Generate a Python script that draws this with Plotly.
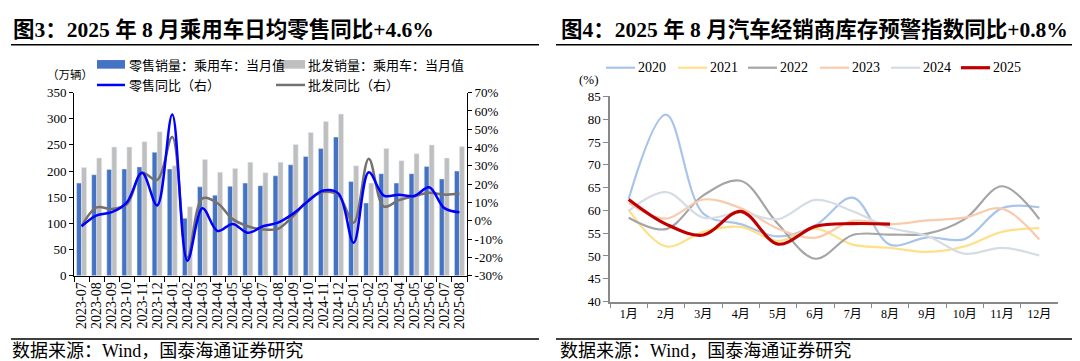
import plotly.graph_objects as go

# ---------------- data: left chart ----------------
months_l = ["2023-07", "2023-08", "2023-09", "2023-10", "2023-11", "2023-12",
            "2024-01", "2024-02", "2024-03", "2024-04", "2024-05", "2024-06",
            "2024-07", "2024-08", "2024-09", "2024-10", "2024-11", "2024-12",
            "2025-01", "2025-02", "2025-03", "2025-04", "2025-05", "2025-06",
            "2025-07", "2025-08"]
retail = [177, 193, 203, 204, 208, 236, 204, 110, 170, 154, 171, 177, 172,
          191, 212, 228, 243, 265, 180, 139, 195, 177, 195, 209, 185, 200]
wholesale = [207, 225, 246, 246, 256, 275, 210, 132, 222, 198, 205, 217, 197,
             217, 251, 274, 295, 309, 210, 177, 243, 220, 233, 250, 225, 247]
retail_yoy = [-3.0, 3.0, 4.7, 10.1, 26.2, 8.4, 58.0, -21.8, 6.8, -5.6, -1.7, -6.6, -3.0,
              -1.0, 3.9, 10.8, 16.5, 14.8, -12.0, 26.5, 13.8, 14.2, 13.5, 18.3, 6.9, 4.6]
wholesale_yoy = [-3.0, 7.3, 6.4, 9.0, 26.2, 22.3, 45.8, -20.0, 12.2, 9.6, 0.9, -3.0, -4.7,
                 -4.4, 2.6, 11.3, 15.7, 13.9, -1.0, 33.9, 7.8, 11.3, 13.4, 15.3, 14.3, 14.7]
left_ticks = [0, 50, 100, 150, 200, 250, 300, 350]
right_ticks = [-30, -20, -10, 0, 10, 20, 30, 40, 50, 60, 70]

# ---------------- data: right chart ----------------
months_r = ["1月", "2月", "3月", "4月", "5月", "6月", "7月", "8月", "9月", "10月", "11月", "12月"]
y2020 = [62.5, 81.0, 59.3, 57.0, 54.3, 56.7, 62.8, 52.5, 54.1, 53.7, 60.5, 60.7]
y2021 = [60.1, 52.1, 55.3, 56.4, 53.3, 56.0, 52.5, 51.8, 50.9, 52.1, 55.3, 56.1]
y2022 = [58.4, 55.9, 63.3, 66.5, 57.0, 49.4, 54.6, 54.7, 54.9, 58.1, 65.3, 58.1]
y2023 = [61.6, 58.2, 62.4, 60.5, 56.0, 54.0, 57.7, 57.0, 57.8, 58.4, 60.4, 53.6]
y2024 = [59.9, 64.0, 58.4, 59.5, 58.1, 62.3, 59.8, 56.2, 54.4, 50.5, 51.8, 50.1]
y2025 = [62.4, 57.0, 54.6, 59.8, 52.6, 56.5, 57.1, 57.0]
years = ["2020", "2021", "2022", "2023", "2024", "2025"]
ticks_r = [40, 45, 50, 55, 60, 65, 70, 75, 80, 85]

W, H = 1080, 361
def X(px): return px / W
def Y(py): return 1 - py / H

SERIF = "Liberation Serif, Noto Sans CJK SC"
CJK = "Noto Sans CJK SC, Liberation Serif"

BLUE_BAR = "#4472c4"
GRAY_BAR = "#bfbfbf"
BLUE_LINE = "#0000ff"
GRAY_LINE = "#767171"
year_colors = ["#a9c4eb", "#ffe08a", "#a5a5a5", "#f8cbad", "#d6dce5", "#c00000"]
year_widths = [2.2, 2.2, 2.2, 2.2, 2.2, 3.2]

fig = go.Figure()

fig.add_trace(go.Bar(x=months_l, y=retail, marker_color=BLUE_BAR, name="零售销量:乘用车:当月值",
                     xaxis="x", yaxis="y", showlegend=False))
fig.add_trace(go.Bar(x=months_l, y=wholesale, marker_color=GRAY_BAR, name="批发销量:乘用车:当月值",
                     xaxis="x", yaxis="y", showlegend=False))
fig.add_trace(go.Scatter(x=months_l, y=wholesale_yoy, mode="lines", line=dict(color=GRAY_LINE, width=2.5, shape="spline", smoothing=1.0),
                         xaxis="x", yaxis="y2", showlegend=False))
fig.add_trace(go.Scatter(x=months_l, y=retail_yoy, mode="lines", line=dict(color=BLUE_LINE, width=2.5, shape="spline", smoothing=1.0),
                         xaxis="x", yaxis="y2", showlegend=False))

series_r = [y2020, y2021, y2022, y2023, y2024, y2025]
for name, vals, c, w in zip(years, series_r, year_colors, year_widths):
    fig.add_trace(go.Scatter(x=months_r[:len(vals)], y=vals, mode="lines", name=name,
                             line=dict(color=c, width=w, shape="spline", smoothing=1.0),
                             xaxis="x2", yaxis="y3", showlegend=False))

L_X0, L_X1, L_Y0, L_Y1 = 66, 459, 81, 272
R_X0, R_X1, R_Y0, R_Y1 = 602, 1050, 85, 299

tickfont = dict(family=SERIF, size=13, color="#000000")
fig.update_layout(
    width=W, height=H, margin=dict(l=0, r=0, t=0, b=0, pad=0),
    paper_bgcolor="white", plot_bgcolor="white",
    barmode="group", bargap=0.34, bargroupgap=0.0,
    xaxis=dict(domain=[X(L_X0), X(L_X1)], anchor="y", type="category",
               tickmode="array", tickvals=months_l, ticktext=months_l,
               showline=True, linecolor="#000000", linewidth=1, ticks="outside", ticklen=5,
               tickcolor="#000000", tickson="boundaries", tickangle=-90,
               tickfont=dict(family=SERIF, size=14, color="#000000"), showgrid=False),
    yaxis=dict(domain=[Y(L_Y1), Y(L_Y0)], anchor="x", range=[0, 350], tickvals=left_ticks,
               showline=True, linecolor="#000000", linewidth=1, ticks="outside", ticklen=4,
               tickcolor="#000000", tickfont=tickfont, showgrid=False, zeroline=False),
    yaxis2=dict(overlaying="y", anchor="x", side="right", range=[-30, 70], tickvals=right_ticks,
                ticktext=[f"{v}%" for v in right_ticks],
                showline=True, linecolor="#000000", linewidth=1, ticks="outside", ticklen=4,
                tickcolor="#000000", tickfont=tickfont, showgrid=False, zeroline=False),
    xaxis2=dict(domain=[X(R_X0), X(R_X1)], anchor="y3", type="category", range=[-0.5, 11.5],
                tickmode="array", tickvals=months_r, ticktext=months_r,
                showline=True, linecolor="#898989", linewidth=1.5, ticks="outside", ticklen=5,
                tickcolor="#898989", tickson="boundaries",
                tickfont=dict(family=SERIF, size=12, color="#000000"), showgrid=False),
    yaxis3=dict(domain=[Y(R_Y1), Y(R_Y0)], anchor="x2", range=[40, 85], tickvals=ticks_r,
                showline=True, linecolor="#898989", linewidth=1.5, ticks="outside", ticklen=5,
                tickcolor="#898989", tickfont=tickfont, showgrid=False, zeroline=False),
)

shapes = []
annotations = []
# title rules and source rules
for x0, x1 in [(3, 531), (548, 1077)]:
    shapes.append(dict(type="line", xref="paper", yref="paper", x0=X(x0), x1=X(x1), y0=Y(31), y1=Y(31),
                       line=dict(color="#000000", width=1.5)))
    shapes.append(dict(type="line", xref="paper", yref="paper", x0=X(x0), x1=X(x1), y0=Y(338), y1=Y(338),
                       line=dict(color="#000000", width=1.5)))

annotations.append(dict(text="<b>图3：2025 年 8 月乘用车日均零售同比+4.6%</b>", x=X(3), y=Y(16), xref="paper", yref="paper",
                        xanchor="left", yanchor="middle", showarrow=False, font=dict(family=SERIF, size=21.5, color="#000000")))
annotations.append(dict(text="<b>图4：2025 年 8 月汽车经销商库存预警指数同比+0.8%</b>", x=X(551), y=Y(16), xref="paper", yref="paper",
                        xanchor="left", yanchor="middle", showarrow=False, font=dict(family=SERIF, size=21.5, color="#000000")))
for x0 in [2, 550]:
    annotations.append(dict(text="数据来源：Wind，国泰海通证券研究", x=X(x0), y=Y(351), xref="paper", yref="paper",
                            xanchor="left", yanchor="middle", showarrow=False, font=dict(family=SERIF, size=18, color="#000000")))

# left legend
leg_font = dict(family=CJK, size=13, color="#000000")
shapes.append(dict(type="rect", xref="paper", yref="paper", x0=X(89), x1=X(117), y0=Y(56), y1=Y(47),
                   fillcolor=BLUE_BAR, line=dict(width=0)))
shapes.append(dict(type="rect", xref="paper", yref="paper", x0=X(269), x1=X(297), y0=Y(56), y1=Y(47),
                   fillcolor=GRAY_BAR, line=dict(width=0)))
shapes.append(dict(type="line", xref="paper", yref="paper", x0=X(89), x1=X(117), y0=Y(73), y1=Y(73),
                   line=dict(color=BLUE_LINE, width=2.5)))
shapes.append(dict(type="line", xref="paper", yref="paper", x0=X(268), x1=X(297), y0=Y(73), y1=Y(73),
                   line=dict(color=GRAY_LINE, width=2.5)))
for txt, x0, y0 in [("零售销量：乘用车：当月值", 119, 51.5), ("批发销量：乘用车：当月值", 298, 51.5),
                    ("零售同比（右）", 119, 73), ("批发同比（右）", 298, 73)]:
    annotations.append(dict(text=txt, x=X(x0), y=Y(y0), xref="paper", yref="paper", xanchor="left", yanchor="middle",
                            showarrow=False, font=leg_font))
annotations.append(dict(text="（万辆）", x=X(62), y=Y(62), xref="paper", yref="paper", xanchor="center", yanchor="middle",
                        showarrow=False, font=dict(family=CJK, size=11.5, color="#000000")))

# right legend
lx = [598, 670, 740, 812, 883, 953]
for i, (name, c, w) in enumerate(zip(years, year_colors, year_widths)):
    shapes.append(dict(type="line", xref="paper", yref="paper", x0=X(lx[i]), x1=X(lx[i] + 29), y0=Y(55), y1=Y(55),
                       line=dict(color=c, width=w)))
    annotations.append(dict(text=name, x=X(lx[i] + 30), y=Y(55), xref="paper", yref="paper", xanchor="left",
                            yanchor="middle", showarrow=False, font=dict(family=SERIF, size=14, color="#000000")))
annotations.append(dict(text="(%)", x=X(581), y=Y(67), xref="paper", yref="paper", xanchor="center", yanchor="middle",
                        showarrow=False, font=dict(family=SERIF, size=13, color="#000000")))

fig.update_layout(shapes=shapes, annotations=annotations)
fig.write_html("out.html")
